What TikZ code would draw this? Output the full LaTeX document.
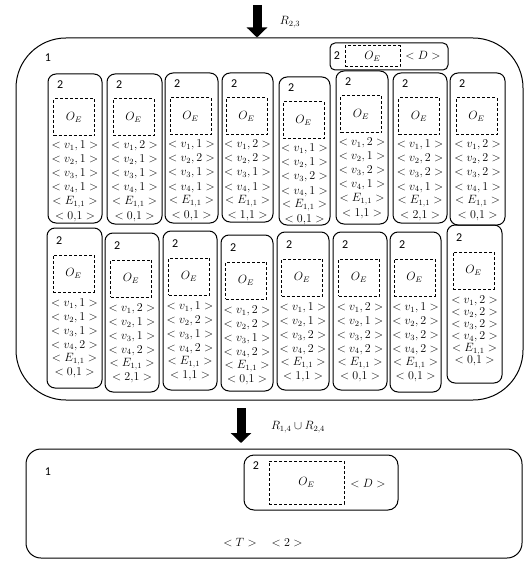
\documentclass[tikz,border=0pt]{standalone}
\usepackage{fontspec}
\setmainfont{Carlito}
\usetikzlibrary{arrows.meta}
\begin{document}
\begin{tikzpicture}[x=1pt,y=-1pt,
  rbox/.style={draw, rounded corners=8pt, line width=1pt, inner sep=0},
  dbox/.style={draw, dash pattern=on 3pt off 2pt, line width=1pt, inner sep=0, font=\fontsize{12}{14}\selectfont},
  lab/.style={font=\fontsize{12}{14}\selectfont, inner sep=0},
  mt/.style={font=\fontsize{12}{14}\selectfont, inner sep=0},
  bigarrow/.style={line width=9pt, -{Triangle[width=20pt,length=10pt]}}]
\useasboundingbox (0,0) rectangle (525,561);

% top arrow and big container
\node[draw, rounded corners=50pt, line width=1pt, minimum width=507pt, minimum height=362pt, inner sep=0] (big) at (269.5,219) {};
\coordinate (a1) at (257,5);
\draw[bigarrow] (a1) -- (a1 |- big.north);
\node[mt] (r23) at (290,22) {$R_{2,3}$};
\node[lab] (one) at (48,58) {1};

% top-right small box
\node[draw, rounded corners=5pt, line width=1pt, minimum width=118pt, minimum height=27pt, inner sep=0] (tb) at (389,56.5) {};
\node[lab] (tbl) at (337,56) {2};
\node[dbox, minimum width=55pt, minimum height=21pt] (tbd) at (372.5,56.5) {$O_E$};
\node[mt] (tbt) at (423,56) {$<D>$};

% cells
\foreach \n/\xa/\ya/\xb/\yb/\a/\b/\c/\d/\p/\q/\o/\s in {
  1/48/74/102/223/1/1/1/1/0/1/0/14.1,
  2/107/74/162/224/2/1/1/1/0/1/0/14.1,
  3/165/73/218/223/1/2/1/1/0/1/0/14.1,
  4/222/73/273/222/2/2/1/1/1/1/0/14.1,
  5/279/77/330/225/1/1/2/1/0/1/0/14.1,
  6/336/71/388/224/2/1/2/1/1/1/0/14.1,
  7/393/73/447/223/1/2/2/1/2/1/0/14.1,
  8/450/73/505/225/2/2/2/1/0/1/0/14.1,
  9/47/228/102/388/1/1/1/2/0/1/2/13.8,
  10/105/233/159/392/2/1/1/2/2/1/2/13.8,
  11/163/231/217/390/1/2/1/2/1/1/2/13.8,
  12/221/235/273/391/2/2/1/2/0/1/2/13.8,
  13/277/232/329/390/1/1/2/2/1/1/2/13.8,
  14/333/232/387/390/2/1/2/2/0/1/2/13.8,
  15/390/232/441/392/1/2/2/2/0/1/2/13.8,
  16/447/225/502/383/2/2/2/2/0/1/2/12}{
  \pgfmathsetmacro\cx{(\xa+\xb)/2}
  \pgfmathsetmacro\cy{(\ya+\yb)/2}
  \pgfmathsetmacro\w{\xb-\xa}
  \pgfmathsetmacro\h{\yb-\ya}
  \pgfmathsetmacro\ty{\ya+72+2*\o}
  \node[rbox, minimum width=\w pt, minimum height=\h pt] (c\n) at (\cx,\cy) {};
  \node[lab, anchor=west] (c\n l) at (\xa+9,\ya+11+\o) {2};
  \node[dbox, minimum width=41pt, minimum height=37pt] (c\n d) at (\cx-1,\ya+43.5+\o) {$O_E$};
  \node[mt] (c\n a) at (\cx,\ty) {$<v_1,\a>$};
  \node[mt] (c\n b) at (\cx,\ty+\s) {$<v_2,\b>$};
  \node[mt] (c\n c) at (\cx,\ty+2*\s) {$<v_3,\c>$};
  \node[mt] (c\n e) at (\cx,\ty+3*\s) {$<v_4,\d>$};
  \node[mt] (c\n f) at (\cx,\ty+4*\s) {$<E_{1,1}>$};
  \node[mt] (c\n g) at (\cx,\ty+5*\s) {$<\p{,}\q>$};
}

% bottom arrow and result box
\node[draw, rounded corners=15pt, line width=1pt, minimum width=496pt, minimum height=109pt, inner sep=0] (bot) at (274,503.5) {};
\coordinate (a2) at (241,408);
\coordinate (a2e) at (241,443);
\draw[bigarrow] (a2) -- (a2e);
\node[mt] (r14) at (298,427) {$R_{1,4}\cup R_{2,4}$};
\node[lab] (one2) at (48,472) {1};
\node[draw, rounded corners=10pt, line width=1pt, minimum width=154pt, minimum height=55pt, inner sep=0] (ib) at (321,482.5) {};
\node[lab] (ibl) at (256,466) {2};
\node[dbox, minimum width=75pt, minimum height=43pt] (ibd) at (306.5,482.5) {$O_E$};
\node[mt] (ibt) at (368,484) {$<D>$};
\node[mt] (tt) at (240,543) {$<T>$};
\node[mt] (t2) at (287,543) {$<2>$};
\end{tikzpicture}
\end{document}
